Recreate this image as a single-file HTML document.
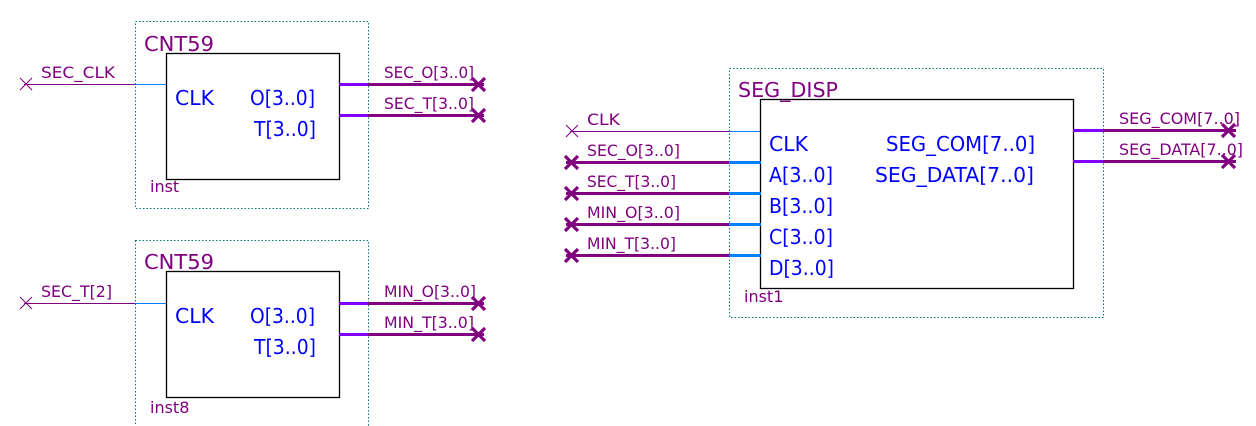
<!DOCTYPE html>
<html><head><meta charset="utf-8"><style>
html,body{margin:0;padding:0;background:#fff;}
svg{display:block;}
.pin{font-family:"DejaVu Sans","Liberation Sans",sans-serif;font-size:20px;fill:#0000ff;}
.net{font-family:"DejaVu Sans","Liberation Sans",sans-serif;font-size:16px;fill:#800080;}
.nm{font-family:"DejaVu Sans","Liberation Sans",sans-serif;font-size:20px;fill:#800080;}
.inst{font-family:"DejaVu Sans","Liberation Sans",sans-serif;font-size:16px;fill:#800080;}
.dot{fill:none;stroke:#007a6e;stroke-width:1;stroke-dasharray:1.5 2;}
.box{fill:none;stroke:#000;stroke-width:1.3;}
.thin{stroke:#800080;stroke-width:1;}
.bus{stroke:#800080;stroke-width:3;}
.vb{stroke:#8000ff;stroke-width:3;}
.bb{stroke:#0080ff;stroke-width:3;}
.tb{stroke:#0080ff;stroke-width:1;}
.xs{stroke:#800080;stroke-width:1;}
.xb{stroke:#800080;stroke-width:3.2;}
</style></head><body>
<svg width="1256" height="426" viewBox="0 0 1256 426" xmlns="http://www.w3.org/2000/svg">
<!-- Block 1 -->
<rect class="dot" x="135.5" y="21.5" width="233" height="187"/>
<rect class="box" x="166.5" y="53.5" width="173" height="126"/>
<text class="nm" x="144" y="51" textLength="70" lengthAdjust="spacingAndGlyphs">CNT59</text>
<text class="pin" x="175" y="105" textLength="39" lengthAdjust="spacingAndGlyphs">CLK</text>
<text class="pin" x="250" y="105" textLength="65" lengthAdjust="spacingAndGlyphs">O[3..0]</text>
<text class="pin" x="254" y="136" textLength="62" lengthAdjust="spacingAndGlyphs">T[3..0]</text>
<text class="inst" x="150" y="192">inst</text>
<line class="thin" x1="24" y1="84.5" x2="135" y2="84.5"/>
<line class="tb" x1="135" y1="84.5" x2="166" y2="84.5"/>
<path class="xs" d="M20 78 L32 90 M20 90 L32 78"/>
<text class="net" x="41" y="78" textLength="74" lengthAdjust="spacingAndGlyphs">SEC_CLK</text>
<line class="vb" x1="339" y1="84.5" x2="368" y2="84.5"/>
<line class="bus" x1="368" y1="84.5" x2="484" y2="84.5"/>
<path class="xb" d="M472 78 L485 91 M472 91 L485 78"/>
<text class="net" x="384" y="78" textLength="90" lengthAdjust="spacingAndGlyphs">SEC_O[3..0]</text>
<line class="vb" x1="339" y1="115.5" x2="368" y2="115.5"/>
<line class="bus" x1="368" y1="115.5" x2="484" y2="115.5"/>
<path class="xb" d="M472 109 L485 122 M472 122 L485 109"/>
<text class="net" x="384" y="109" textLength="90" lengthAdjust="spacingAndGlyphs">SEC_T[3..0]</text>

<!-- Block 2 -->
<rect class="dot" x="135.5" y="240.5" width="233" height="200"/>
<rect class="box" x="166.5" y="271.5" width="173" height="126"/>
<text class="nm" x="144" y="269" textLength="70" lengthAdjust="spacingAndGlyphs">CNT59</text>
<text class="pin" x="175" y="323" textLength="39" lengthAdjust="spacingAndGlyphs">CLK</text>
<text class="pin" x="250" y="323" textLength="65" lengthAdjust="spacingAndGlyphs">O[3..0]</text>
<text class="pin" x="254" y="354" textLength="62" lengthAdjust="spacingAndGlyphs">T[3..0]</text>
<text class="inst" x="150" y="413">inst8</text>
<line class="thin" x1="24" y1="303.5" x2="135" y2="303.5"/>
<line class="tb" x1="135" y1="303.5" x2="166" y2="303.5"/>
<path class="xs" d="M20 297 L32 309 M20 309 L32 297"/>
<text class="net" x="41" y="297" textLength="71" lengthAdjust="spacingAndGlyphs">SEC_T[2]</text>
<line class="vb" x1="339" y1="303.5" x2="368" y2="303.5"/>
<line class="bus" x1="368" y1="303.5" x2="484" y2="303.5"/>
<path class="xb" d="M472 297 L485 310 M472 310 L485 297"/>
<text class="net" x="384" y="297" textLength="92" lengthAdjust="spacingAndGlyphs">MIN_O[3..0]</text>
<line class="vb" x1="339" y1="334.5" x2="368" y2="334.5"/>
<line class="bus" x1="368" y1="334.5" x2="484" y2="334.5"/>
<path class="xb" d="M472 328 L485 341 M472 341 L485 328"/>
<text class="net" x="384" y="328" textLength="90" lengthAdjust="spacingAndGlyphs">MIN_T[3..0]</text>

<!-- Block 3 -->
<rect class="dot" x="729.5" y="68.5" width="374" height="249"/>
<rect class="box" x="760.5" y="99.5" width="313" height="189"/>
<text class="nm" x="738" y="97" textLength="100" lengthAdjust="spacingAndGlyphs">SEG_DISP</text>
<text class="pin" x="769" y="151" textLength="39" lengthAdjust="spacingAndGlyphs">CLK</text>
<text class="pin" x="769" y="182" textLength="64" lengthAdjust="spacingAndGlyphs">A[3..0]</text>
<text class="pin" x="769" y="213" textLength="64" lengthAdjust="spacingAndGlyphs">B[3..0]</text>
<text class="pin" x="769" y="244" textLength="64" lengthAdjust="spacingAndGlyphs">C[3..0]</text>
<text class="pin" x="769" y="275" textLength="65" lengthAdjust="spacingAndGlyphs">D[3..0]</text>
<text class="pin" x="886" y="151" textLength="149" lengthAdjust="spacingAndGlyphs">SEG_COM[7..0]</text>
<text class="pin" x="875" y="182" textLength="159" lengthAdjust="spacingAndGlyphs">SEG_DATA[7..0]</text>
<text class="inst" x="744" y="302">inst1</text>

<line class="thin" x1="570" y1="131.5" x2="729" y2="131.5"/>
<line class="tb" x1="729" y1="131.5" x2="760" y2="131.5"/>
<path class="xs" d="M566 125 L578 137 M566 137 L578 125"/>
<text class="net" x="587" y="125" textLength="33" lengthAdjust="spacingAndGlyphs">CLK</text>

<line class="bus" x1="566" y1="162.5" x2="729" y2="162.5"/>
<line class="bb" x1="729" y1="162.5" x2="761" y2="162.5"/>
<path class="xb" d="M565 156 L578 169 M565 169 L578 156"/>
<text class="net" x="587" y="156" textLength="93" lengthAdjust="spacingAndGlyphs">SEC_O[3..0]</text>

<line class="bus" x1="566" y1="193.5" x2="729" y2="193.5"/>
<line class="bb" x1="729" y1="193.5" x2="761" y2="193.5"/>
<path class="xb" d="M565 187 L578 200 M565 200 L578 187"/>
<text class="net" x="587" y="187" textLength="89" lengthAdjust="spacingAndGlyphs">SEC_T[3..0]</text>

<line class="bus" x1="566" y1="224.5" x2="729" y2="224.5"/>
<line class="bb" x1="729" y1="224.5" x2="761" y2="224.5"/>
<path class="xb" d="M565 218 L578 231 M565 231 L578 218"/>
<text class="net" x="587" y="218" textLength="93" lengthAdjust="spacingAndGlyphs">MIN_O[3..0]</text>

<line class="bus" x1="566" y1="255.5" x2="729" y2="255.5"/>
<line class="bb" x1="729" y1="255.5" x2="761" y2="255.5"/>
<path class="xb" d="M565 249 L578 262 M565 262 L578 249"/>
<text class="net" x="587" y="249" textLength="89" lengthAdjust="spacingAndGlyphs">MIN_T[3..0]</text>

<line class="vb" x1="1073" y1="130.5" x2="1103" y2="130.5"/>
<line class="bus" x1="1103" y1="130.5" x2="1236" y2="130.5"/>
<path class="xb" d="M1222 124 L1235 137 M1222 137 L1235 124"/>
<text class="net" x="1119" y="124" textLength="121" lengthAdjust="spacingAndGlyphs">SEG_COM[7..0]</text>

<line class="vb" x1="1073" y1="161.5" x2="1103" y2="161.5"/>
<line class="bus" x1="1103" y1="161.5" x2="1236" y2="161.5"/>
<path class="xb" d="M1222 155 L1235 168 M1222 168 L1235 155"/>
<text class="net" x="1119" y="155" textLength="124" lengthAdjust="spacingAndGlyphs">SEG_DATA[7..0]</text>
</svg>
</body></html>
